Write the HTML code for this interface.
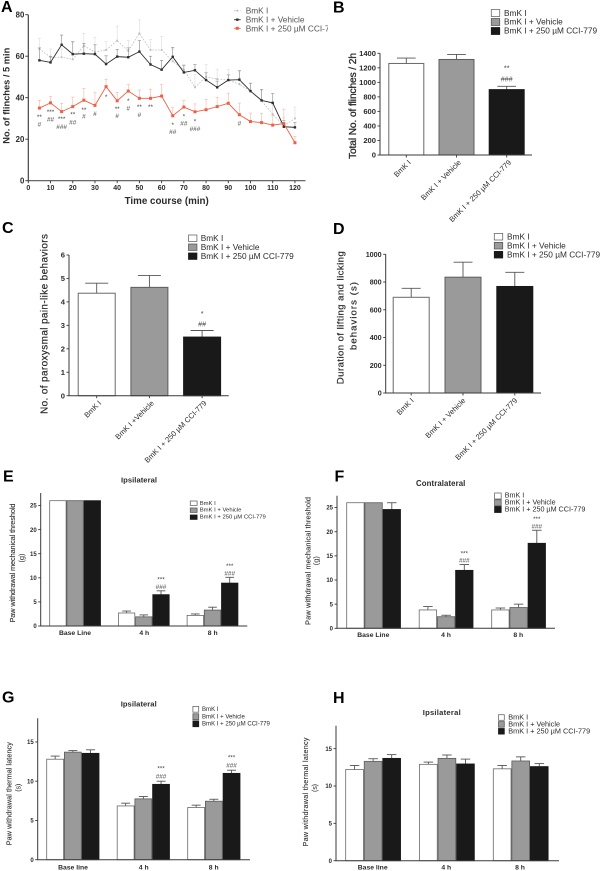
<!DOCTYPE html>
<html lang="en">
<head>
<meta charset="utf-8">
<title>BmK I behavioural figure</title>
<style>
html,body{margin:0;padding:0;background:#fff;width:600px;height:871px;overflow:hidden}
svg{display:block;filter:blur(0.3px)}
text{font-family:"Liberation Sans",Arial,sans-serif;fill:#2b2b2b}
</style>
</head>
<body>
<svg id="fig" xmlns="http://www.w3.org/2000/svg" width="600" height="871" viewBox="0 0 600 871">
<defs><clipPath id="legend-a-clip"><rect x="225" y="0" width="103" height="40"/></clipPath></defs>
</svg>
<script>
// Panel A data
const aMinutes = [5,10,15,20,25,30,35,40,45,50,55,60,65,70,75,80,85,90,95,100,105,110,115,120];
const aBmk = [63.5,59.5,59.5,58.5,65,62,63,67.5,62.5,71,63,63,57.5,53.5,45,50,49,48.5,46.5,43,38.5,32,26.5,30];
const aVehicle = [58,57,65.5,61,61.2,61,56.2,59.8,59.5,62.2,56,53.5,59.7,52.2,53.2,48.5,45,48.5,48.7,43.2,38.7,37.5,26,25.7];
const aCci = [35,37.5,33.3,35.7,38.8,36.3,45.3,38.5,43.2,39.7,39.7,40.8,31.3,35.5,33.2,34.2,35.7,37.3,31.8,28.5,28,26.8,27.5,18.3];
const aBmkErr = [5,4,4,8,6,7,4,7,5,6.5,5,6.5,6,2.5,6,6,4.5,5,6,4,5,5,4,5.5];
const aVehicleErr = [6,3,4.7,6,5,4.5,4,3.5,4.5,5.3,4,4.5,4.6,3.3,2.8,3.5,3,2.5,4.3,3.8,5.3,4.5,3,2.3];
const aCciErr = [3.7,3.2,4,4.6,5.7,6.4,3.6,4.1,3.3,4,4.4,5.7,3.9,3.3,3.8,5,4.5,4.9,5.6,4.1,4.5,4.5,7,3.1];
const aXTicks = [0,10,20,30,40,50,60,70,80,90,100,110,120];
const aYTicks = [0,20,40,60,80];
const aSigMinutes = [5,5,10,10,15,15,20,20,25,25,30,35,40,40,45,45,50,50,55,65,65,70,70,75,75,95];
const aSigLabels = ['**','#','***','##','***','###','**','##','**','#','#','*','**','#','*','#','**','#','**','*','##','*','##','*','###','#'];
const aSigLevels = [31.6,27.3,34,29.7,30.6,26,32.8,28.2,35,31,32.2,41.3,35.5,31.2,39.4,34.8,36.5,31.7,36.5,27.8,23.5,32,27.8,29.5,25,27.6];

// Panel B data
const bCategories = ['BmK I','BmK I + Vehicle','BmK I + 250 µM CCI-779'];
const bValues = [1260,1315,900];
const bErrors = [75,70,45];
const bStars = ['','','**'];
const bHashes = ['','','###'];
const bYTicks = [0,200,400,600,800,1000,1200,1400];

// Panel C data
const cCategories = ['BmK I','BmK I +Vehicle','BmK I + 250 µM CCI-779'];
const cValues = [4.37,4.62,2.5];
const cErrors = [0.43,0.51,0.28];
const cStars = ['','','*'];
const cHashes = ['','','##'];
const cYTicks = [0,1,2,3,4,5,6];

// Panel D data
const dCategories = ['BmK I','BmK I + Vehicle','BmK I + 250 µM CCI-779'];
const dValues = [690,835,768];
const dErrors = [65,108,102];
const dStars = ['','',''];
const dHashes = ['','',''];
const dYTicks = [0,200,400,600,800,1000];

// Panel E data
const eCategories = ['Base Line','4 h','8 h'];
const eBmk = [26,2.7,2.2];
const eVehicle = [26,1.9,3.3];
const eCci = [26,6.5,8.9];
const eBmkErr = [0,0.4,0.3];
const eVehicleErr = [0,0.4,0.6];
const eCciErr = [0,0.8,1.2];
const eStars = ['','***','***'];
const eHashes = ['','###','###'];
const eYTicks = [0,5,10,15,20,25];

// Panel F data
const fCategories = ['Base Line','4 h','8 h'];
const fBmk = [26,3.8,3.8];
const fVehicle = [26,2.4,4.3];
const fCci = [24.6,12,17.6];
const fBmkErr = [0,0.7,0.4];
const fVehicleErr = [0,0.3,0.7];
const fCciErr = [1.4,1.2,2.7];
const fStars = ['','***','***'];
const fHashes = ['','###','###'];
const fYTicks = [0,5,10,15,20,25];

// Panel G data
const gCategories = ['Base line','4 h','8 h'];
const gBmk = [12.8,6.85,6.65];
const gVehicle = [13.7,7.75,7.45];
const gCci = [13.55,9.6,11];
const gBmkErr = [0.4,0.35,0.3];
const gVehicleErr = [0.2,0.3,0.25];
const gCciErr = [0.45,0.4,0.4];
const gStars = ['','***','***'];
const gHashes = ['','###','###'];
const gYTicks = [0,5,10,15];

// Panel H data
const hCategories = ['Base line','4 h','8 h'];
const hBmk = [12.2,12.9,12.3];
const hVehicle = [13.3,13.7,13.35];
const hCci = [13.7,12.95,12.6];
const hBmkErr = [0.55,0.3,0.45];
const hVehicleErr = [0.35,0.45,0.55];
const hCciErr = [0.5,0.65,0.4];
const hStars = ['','','' ];
const hHashes = ['','',''];
const hYTicks = [0,5,10,15];

const legendLabels = ['BmK I','BmK I + Vehicle','BmK I + 250 µM CCI-779'];

const NS = 'http://www.w3.org/2000/svg';
const fig = document.getElementById('fig');
const AXIS = '#3a3a3a';
const FILLS = ['#ffffff','#999a99','#191919'];
const EDGES = ['#6a6a6a','#5c5c5c','#191919'];
const STEMS = ['#555','#555','#555'];

function add(parent, tag, attrs, content) {
  const el = document.createElementNS(NS, tag);
  for (const k in attrs) el.setAttribute(k, attrs[k]);
  if (content !== undefined) el.textContent = content;
  parent.appendChild(el);
  return el;
}
function line(parent, x1, y1, x2, y2, stroke, w) {
  return add(parent, 'line', {x1:x1, y1:y1, x2:x2, y2:y2, stroke:stroke, 'stroke-width':w});
}
function sigText(parent, x, cy, label, size) {
  const isStar = label.charAt(0) === '*';
  const t = add(parent, 'text', {x:x, y:cy + (isStar ? 0.62 : 0.35) * size, 'text-anchor':'middle', 'font-size':size, style:'fill:#444'}, label);
  
  
  return t;
}
function panelLetter(letter, x, y) {
  const t = add(fig, 'text', {x:x, y:y, 'font-size':16, 'font-weight':'bold', style:'fill:#000'}, letter);
  
  
}
function rotatedLabel(parent, text, cx, cy, size, len, weight, name, thick) {
  const t = add(parent, 'text', {x:0, y:0, transform:'translate(' + cx + ',' + cy + ') rotate(-90)', 'text-anchor':'middle', 'font-size':size, 'font-weight':weight, textLength:len, lengthAdjust:'spacing'}, text);
  if (thick) t.setAttribute('style', 'stroke:#2b2b2b;stroke-width:' + thick);
  
  
}
function boxLegend(parent, o) {
  legendLabels.forEach(function (label, i) {
    const g = add(parent, 'g', {});
    
    
    const r = add(g, 'rect', {x:o.x, y:o.ys[i], width:o.w, height:o.h, fill:FILLS[i], stroke:EDGES[i], 'stroke-width':0.8});
    
    
    const t = add(g, 'text', {x:o.tx, y:o.bases[i], 'font-size':o.size}, label);
    
    
  });
}

function barPanel(o) {
  const g = add(fig, 'g', {});
  
  
  const yPx = function (v) { return o.y0 - v * o.ppu; };
  const xPx = function (gi, si) { return o.x0 + gi * o.groupStep + si * o.seriesStep; };

  o.series.forEach(function (vals, si) {
    vals.forEach(function (v, gi) {
      const x = xPx(gi, si);
      const err = o.errors[si][gi];
      const mid = x + o.barW / 2;
      if (err > 0) {
        const s = line(g, mid, yPx(v), mid, yPx(v + err), STEMS[si], 0.9);
        
        
        const c = line(g, mid - o.cap / 2, yPx(v + err), mid + o.cap / 2, yPx(v + err), STEMS[si], 0.9);
        
        
      }
      const r = add(g, 'rect', {x:x + o.inset, y:yPx(v), width:o.barW - 2 * o.inset, height:o.y0 - yPx(v), fill:FILLS[si], stroke:EDGES[si], 'stroke-width':o.edge});
      
      
    });
  });

  o.hashes.forEach(function (label, i) {
    const si = o.sigSeries(i);
    const gi = o.sigGroup(i);
    if (label) sigText(g, xPx(gi, si) + o.barW / 2, yPx(o.series[si][gi] + o.errors[si][gi]) - o.sigOffsets[0], label, o.sigSize);
  });
  o.stars.forEach(function (label, i) {
    const si = o.sigSeries(i);
    const gi = o.sigGroup(i);
    if (label) sigText(g, xPx(gi, si) + o.barW / 2, yPx(o.series[si][gi] + o.errors[si][gi]) - o.sigOffsets[1], label, o.sigSize);
  });

  const ya = line(g, o.axisX, o.y0, o.axisX, o.yTop, AXIS, 1);
  
  
  const xa = line(g, o.axisX - 0.5, o.y0, o.xEnd, o.y0, AXIS, 1);
  
  

  o.yTicks.forEach(function (v) {
    const tk = line(g, o.axisX - 2.5, yPx(v), o.axisX, yPx(v), AXIS, 0.9);
    
    
    const t = add(g, 'text', {x:o.axisX - 4, y:yPx(v) + o.tickSize * 0.36, 'text-anchor':'end', 'font-size':o.tickSize, 'font-weight':'bold'}, v);
    
    
  });

  if (o.rotated) {
    o.categories.forEach(function (label, i) {
      const mid = xPx(0, i) + o.barW / 2;
      const tk = line(g, mid, o.y0, mid, o.y0 + 2.5, AXIS, 0.9);
      
      
      const t = add(g, 'text', {x:0, y:0, transform:'translate(' + (mid + o.labelDx) + ',' + (o.y0 + 8) + ') rotate(-45)', 'text-anchor':'end', 'font-size':7.5}, label);
      
      
    });
  } else {
    o.categories.forEach(function (label, i) {
      const t = add(g, 'text', {x:o.catX[i], y:o.catY, 'text-anchor':'middle', 'font-size':6.8, 'font-weight':'bold'}, label);
      
      
    });
  }
  if (o.title) {
    const t = add(g, 'text', {x:o.title.x, y:o.title.y, 'text-anchor':'middle', 'font-size':o.title.size, 'font-weight':'bold', textLength:o.title.len, lengthAdjust:'spacing'}, o.title.text);
    
    
  }
  o.yLabels.forEach(function (l) {
    rotatedLabel(g, l.text, l.x, l.y, l.size, l.len, l.weight || 'normal', 'y-axis-title', l.thick);
  });
  boxLegend(g, o.legend);
}

function singleSeries(values) {
  return values.map(function (v) { return [v]; });
}
const lastSeries = function () { return 2; };
const sameGroup = function (i) { return i; };
const noGroup = function () { return 0; };
const sameSeries = function (i) { return i; };

/* ---------- Panel A: line chart ---------- */
(function () {
  const g = add(fig, 'g', {});
  
  
  const X0 = 28.3, XS = 2.222, Y0 = 180.7, YS = 2.075;
  const xPx = function (m) { return X0 + m * XS; };
  const yPx = function (v) { return Y0 - v * YS; };
  const styles = [
    {vals:aBmk, errs:aBmkErr, color:'#bdbdbd', err:'#dcdcdc', w:0.8, dash:'1.6 1.4', r:0.9, name:'bmk'},
    {vals:aVehicle, errs:aVehicleErr, color:'#2e2e2e', err:'#8a8a8a', w:0.9, dash:'', r:1.2, name:'vehicle'},
    {vals:aCci, errs:aCciErr, color:'#ee6045', err:'#f8b5a7', w:0.9, dash:'', r:1.5, name:'cci'}
  ];
  styles.forEach(function (s) {
    s.vals.forEach(function (v, i) {
      const x = xPx(aMinutes[i]);
      const e1 = line(g, x, yPx(v), x, yPx(v + s.errs[i]), s.err, 0.6);
      
      
      const e2 = line(g, x - 1.6, yPx(v + s.errs[i]), x + 1.6, yPx(v + s.errs[i]), s.err, 0.6);
      
      
    });
    const pts = s.vals.map(function (v, i) { return xPx(aMinutes[i]) + ',' + yPx(v); }).join(' ');
    const pl = add(g, 'polyline', {points:pts, fill:'none', stroke:s.color, 'stroke-width':s.w, 'stroke-dasharray':s.dash});
    
    
    s.vals.forEach(function (v, i) {
      const c = add(g, 'rect', {x:xPx(aMinutes[i]) - s.r, y:yPx(v) - s.r, width:2 * s.r, height:2 * s.r, fill:s.color});
      
      
    });
  });
  aSigLabels.forEach(function (label, i) {
    sigText(g, xPx(aSigMinutes[i]), yPx(aSigLevels[i]), label, 6.4);
  });
  const ya = line(g, X0, Y0, X0, yPx(80), '#333', 1.1);
  
  
  const xa = line(g, X0 - 0.5, Y0, 305.5, Y0, '#555', 1.1);
  
  
  aYTicks.forEach(function (v) {
    const tk = line(g, X0 - 3, yPx(v), X0, yPx(v), '#333', 0.9);
    
    
    const t = add(g, 'text', {x:X0 - 4, y:yPx(v) + 2.8, 'text-anchor':'end', 'font-size':7.8, 'font-weight':'bold'}, v);
    
    
  });
  aXTicks.forEach(function (v) {
    const tk = line(g, xPx(v), Y0, xPx(v), Y0 + 2.5, '#333', 0.9);
    
    
    const t = add(g, 'text', {x:xPx(v), y:Y0 + 9.5, 'text-anchor':'middle', 'font-size':7, 'font-weight':'bold'}, v);
    
    
  });
  const xt = add(g, 'text', {x:166.7, y:204, 'text-anchor':'middle', 'font-size':9.8, 'font-weight':'bold'}, 'Time course (min)');
  
  
  rotatedLabel(g, 'No. of flinches / 5 min', 9.5, 95.7, 9.3, 96, 'bold', 'y-axis-title');

  const lg = add(g, 'g', {'clip-path':'url(#legend-a-clip)'});
  
  
  const legendYs = [10.7, 19.7, 28.3];
  styles.forEach(function (s, i) {
    const l = line(lg, 234, legendYs[i], 240.7, legendYs[i], s.color, s.w);
    if (s.dash) l.setAttribute('stroke-dasharray', s.dash);
    
    
    const m = add(lg, 'rect', {x:237.3 - s.r, y:legendYs[i] - s.r, width:2 * s.r, height:2 * s.r, fill:s.color});
    
    
    const t = add(lg, 'text', {x:245.7, y:legendYs[i] + 3, 'font-size':8.3, style:'fill:#555'}, legendLabels[i]);
    
    
  });
})();

/* ---------- Panels B–D ---------- */
barPanel({
  name:'panel-b-bar-chart', series:singleSeries(bValues), errors:singleSeries(bErrors), categories:bCategories,
  stars:bStars, hashes:bHashes, sigSeries:sameSeries, sigGroup:noGroup, sigOffsets:[7.4,20.4], sigSize:7.2,
  x0:388.3, groupStep:0, seriesStep:50.2, barW:36, inset:0.5, edge:1, cap:18.7, y0:155, ppu:101.7/1400, yTop:53.3,
  axisX:380, xEnd:532, yTicks:bYTicks, tickSize:7.6, rotated:true, labelDx:5,
  yLabels:[{text:'Total No. of flinches / 2h', x:356, y:106, size:10.2, len:106, thick:0.3}],
  legend:{x:491.3, w:8.4, h:7, ys:[9.5,18.5,27.5], tx:504, bases:[15.8,24.6,33.4], size:8.3}
});
barPanel({
  name:'panel-c-bar-chart', series:singleSeries(cValues), errors:singleSeries(cErrors), categories:cCategories,
  stars:cStars, hashes:cHashes, sigSeries:sameSeries, sigGroup:noGroup, sigOffsets:[6.5,18.8], sigSize:7.2,
  x0:77.7, groupStep:0, seriesStep:52.7, barW:38, inset:0.5, edge:1, cap:23, y0:395.7, ppu:140.7/6, yTop:255,
  axisX:69, xEnd:228.7, yTicks:cYTicks, tickSize:7.6, rotated:true, labelDx:5,
  yLabels:[{text:'No. of paroxysmal pain-like behaviors', x:47.5, y:324, size:10, len:180, thick:0.2}],
  legend:{x:188.5, w:8.4, h:6.4, ys:[235,244,253], tx:200.7, bases:[241,250,258.8], size:8.3}
});
barPanel({
  name:'panel-d-bar-chart', series:singleSeries(dValues), errors:singleSeries(dErrors), categories:dCategories,
  stars:dStars, hashes:dHashes, sigSeries:sameSeries, sigGroup:noGroup, sigOffsets:[6,18], sigSize:6.8,
  x0:392.7, groupStep:0, seriesStep:51.8, barW:37, inset:0.5, edge:1, cap:19, y0:393, ppu:138.7/1000, yTop:254.3,
  axisX:385.7, xEnd:541, yTicks:dYTicks, tickSize:7.2, rotated:true, labelDx:3,
  yLabels:[
    {text:'Duration of lifting and licking', x:343.5, y:317.7, size:9.6, len:133, thick:0.2},
    {text:'behaviors   (s)', x:356.5, y:316, size:9.6, len:68, thick:0.2}
  ],
  legend:{x:494.3, w:8.4, h:6.6, ys:[233.4,242.4,251.4], tx:507, bases:[239.7,248.7,257.6], size:8.3}
});

/* ---------- Panels E–H ---------- */
barPanel({
  name:'panel-e-bar-chart', series:[eBmk,eVehicle,eCci], errors:[eBmkErr,eVehicleErr,eCciErr], categories:eCategories,
  stars:eStars, hashes:eHashes, sigSeries:lastSeries, sigGroup:sameGroup, sigOffsets:[4.3,13.3], sigSize:6.4,
  x0:49.3, groupStep:68.7, seriesStep:17.2, barW:17.2, inset:0.4, edge:0.8, cap:8.7, y0:626, ppu:4.82, yTop:493,
  axisX:40.7, xEnd:247.3, yTicks:eYTicks, tickSize:6, rotated:false, catX:[75,144.3,212.7], catY:635,
  title:{text:'Ipsilateral', x:139, y:482.6, size:7.6, len:36},
  yLabels:[
    {text:'Paw withdrawal mechanical threshold', x:15, y:563, size:7.4, len:119, thick:0.1},
    {text:'(g)', x:24, y:558, size:7.4, len:9}
  ],
  legend:{x:190.3, w:6.8, h:4.4, ys:[501,508,515], tx:199.7, bases:[505,511.7,518.7], size:5.9}
});
barPanel({
  name:'panel-f-bar-chart', series:[fBmk,fVehicle,fCci], errors:[fBmkErr,fVehicleErr,fCciErr], categories:fCategories,
  stars:fStars, hashes:fHashes, sigSeries:lastSeries, sigGroup:sameGroup, sigOffsets:[4.2,13.2], sigSize:6.4,
  x0:346.3, groupStep:72.5, seriesStep:18.2, barW:18.2, inset:0.4, edge:0.8, cap:9.5, y0:628.3, ppu:4.83, yTop:495.7,
  axisX:337, xEnd:555, yTicks:fYTicks, tickSize:6, rotated:false, catX:[373.3,446,518.3], catY:637,
  title:{text:'Contralateral', x:440.7, y:486, size:7.8, len:49.3},
  yLabels:[
    {text:'Paw withdrawal mechanical threshold', x:310.5, y:561, size:7.4, len:128, thick:0.1},
    {text:'(g)', x:318.5, y:560.7, size:7.4, len:9}
  ],
  legend:{x:494.6, w:6.6, h:6, ys:[493,499.8,506.5], tx:504.7, bases:[497.7,504.7,511.7], size:7.2}
});
barPanel({
  name:'panel-g-bar-chart', series:[gBmk,gVehicle,gCci], errors:[gBmkErr,gVehicleErr,gCciErr], categories:gCategories,
  stars:gStars, hashes:gHashes, sigSeries:lastSeries, sigGroup:sameGroup, sigOffsets:[5,14.8], sigSize:6.4,
  x0:46.3, groupStep:70.5, seriesStep:17.7, barW:17.7, inset:0.4, edge:0.8, cap:9, y0:859.7, ppu:7.85, yTop:718.3,
  axisX:37.7, xEnd:250, yTicks:gYTicks, tickSize:6, rotated:false, catX:[73,143.7,213.7], catY:869.3,
  title:{text:'Ipsilateral', x:138.7, y:706.5, size:7.6, len:36},
  yLabels:[
    {text:'Paw withdrawal thermal latency', x:11.5, y:793.7, size:7.2, len:103, thick:0.1},
    {text:'(s)', x:20.5, y:787.7, size:7.2, len:8}
  ],
  legend:{x:192.9, w:5.8, h:5.8, ys:[706.4,713.8,720.9], tx:202, bases:[711,718.3,725.3], size:6.05}
});
barPanel({
  name:'panel-h-bar-chart', series:[hBmk,hVehicle,hCci], errors:[hBmkErr,hVehicleErr,hCciErr], categories:hCategories,
  stars:hStars, hashes:hHashes, sigSeries:lastSeries, sigGroup:sameGroup, sigOffsets:[5,14.8], sigSize:6.4,
  x0:345.3, groupStep:73.8, seriesStep:18.55, barW:18.55, inset:0.4, edge:0.8, cap:9.5, y0:860.7, ppu:7.47, yTop:725.7,
  axisX:336, xEnd:559, yTicks:hYTicks, tickSize:6, rotated:false, catX:[372.7,446.3,520], catY:869.7,
  title:{text:'Ipsilateral', x:441.7, y:714.8, size:7.6, len:38},
  yLabels:[
    {text:'Paw withdrawal thermal latency', x:308.2, y:792, size:7.2, len:109, thick:0.1},
    {text:'(s)', x:316.8, y:788, size:7.2, len:8}
  ],
  legend:{x:498.5, w:5.8, h:5.6, ys:[714.7,721.6,728.5], tx:508.3, bases:[719.3,726.3,733.3], size:7.3}
});

panelLetter('A', 1, 12);
panelLetter('B', 333, 12.5);
panelLetter('C', 2, 233);
panelLetter('D', 333, 234);
panelLetter('E', 3, 481.7);
panelLetter('F', 334.5, 481.7);
panelLetter('G', 2, 702.7);
panelLetter('H', 333, 703);
</script>
</body>
</html>
